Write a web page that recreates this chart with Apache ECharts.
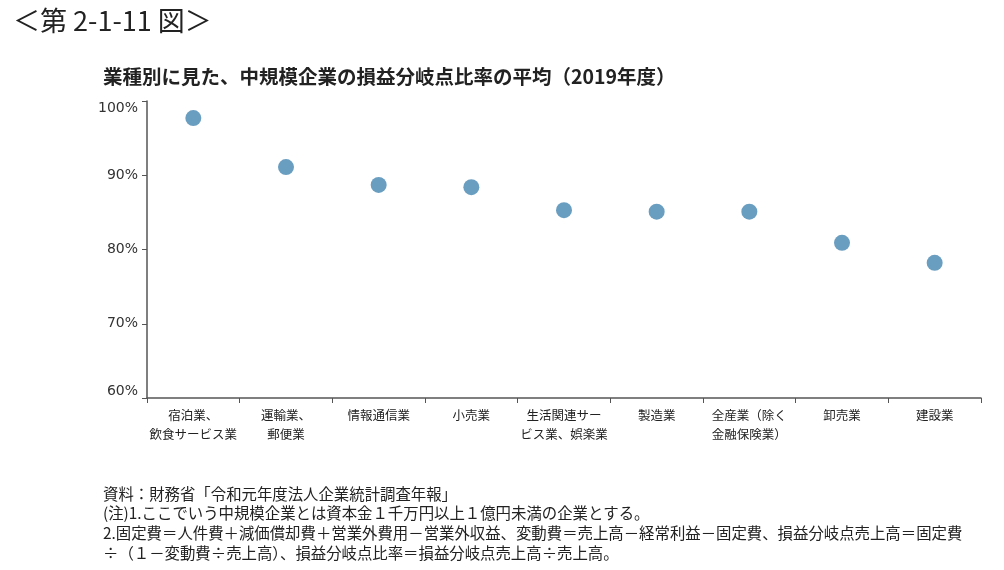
<!DOCTYPE html>
<html>
<head>
<meta charset="utf-8">
<script src="https://cdn.jsdelivr.net/npm/echarts@6/dist/echarts.min.js"></script>
<style>
html,body{margin:0;padding:0;background:#fff;}
#chart{width:1004px;height:570px;}
</style>
</head>
<body>
<div id="chart"></div>
<script>
const categories = [
  '宿泊業、\n飲食サービス業',
  '運輸業、\n郵便業',
  '情報通信業',
  '小売業',
  '生活関連サー\nビス業、娯楽業',
  '製造業',
  '全産業（除く\n金融保険業）',
  '卸売業',
  '建設業'
];
const ratios = [97.7, 91.1, 88.7, 88.4, 85.3, 85.1, 85.1, 80.9, 78.2];
const yTicks = [60, 70, 80, 90, 100];

const figLabel = '＜第 2-1-11 図＞';
const chartTitle = '業種別に見た、中規模企業の損益分岐点比率の平均（2019年度）';
const notes = [
  '資料：財務省「令和元年度法人企業統計調査年報」',
  '(注)1.ここでいう中規模企業とは資本金１千万円以上１億円未満の企業とする。',
  '2.固定費＝人件費＋減価償却費＋営業外費用－営業外収益、変動費＝売上高－経常利益－固定費、損益分岐点売上高＝固定費',
  '÷（１－変動費÷売上高）、損益分岐点比率＝損益分岐点売上高÷売上高。'
];

const jp = '"Noto Sans CJK JP", sans-serif';
const chart = echarts.init(document.getElementById('chart'), null, {renderer: 'canvas'});

const titles = [
  {text: figLabel, left: 8, top: 2, textStyle: {fontFamily: jp, fontSize: 27, fontWeight: 'normal', color: '#222'}},
  {text: chartTitle, left: 98, top: 62, textStyle: {fontFamily: jp, fontSize: 19.5, fontWeight: 'bold', color: '#222'}}
];
notes.forEach((t, i) => {
  titles.push({text: t, left: 98, top: 481 + i * 19.7, textStyle: {fontFamily: jp, fontSize: 15.4, fontWeight: 'normal', color: '#222'}});
});

chart.setOption({
  backgroundColor: '#fff',
  animation: false,
  title: titles,
  grid: {left: 147, right: 23, top: 101, bottom: 172, containLabel: false},
  xAxis: {
    type: 'category',
    data: categories,
    boundaryGap: true,
    axisLine: {lineStyle: {color: '#555', width: 1.5}},
    axisTick: {show: true, alignWithLabel: false, length: 5, lineStyle: {color: '#555'}},
    axisLabel: {interval: 0, margin: 8, fontFamily: jp, fontSize: 12.5, color: '#222', lineHeight: 19}
  },
  yAxis: {
    type: 'value',
    min: 60, max: 100, interval: 10,
    splitLine: {show: false},
    axisLine: {show: true, lineStyle: {color: '#555', width: 1.5}},
    axisTick: {show: true, length: 5, lineStyle: {color: '#555'}},
    axisLabel: {
      margin: 9, fontFamily: '"DejaVu Sans", sans-serif', fontSize: 14, color: '#333',
      verticalAlignMinLabel: 'bottom',
      verticalAlignMaxLabel: 'top',
      formatter: v => yTicks.includes(v) ? v + '%' : ''
    }
  },
  series: [{
    type: 'scatter',
    data: ratios,
    symbol: 'circle',
    symbolSize: 16,
    itemStyle: {color: '#6a9ec1', opacity: 1}
  }]
});
</script>
</body>
</html>
